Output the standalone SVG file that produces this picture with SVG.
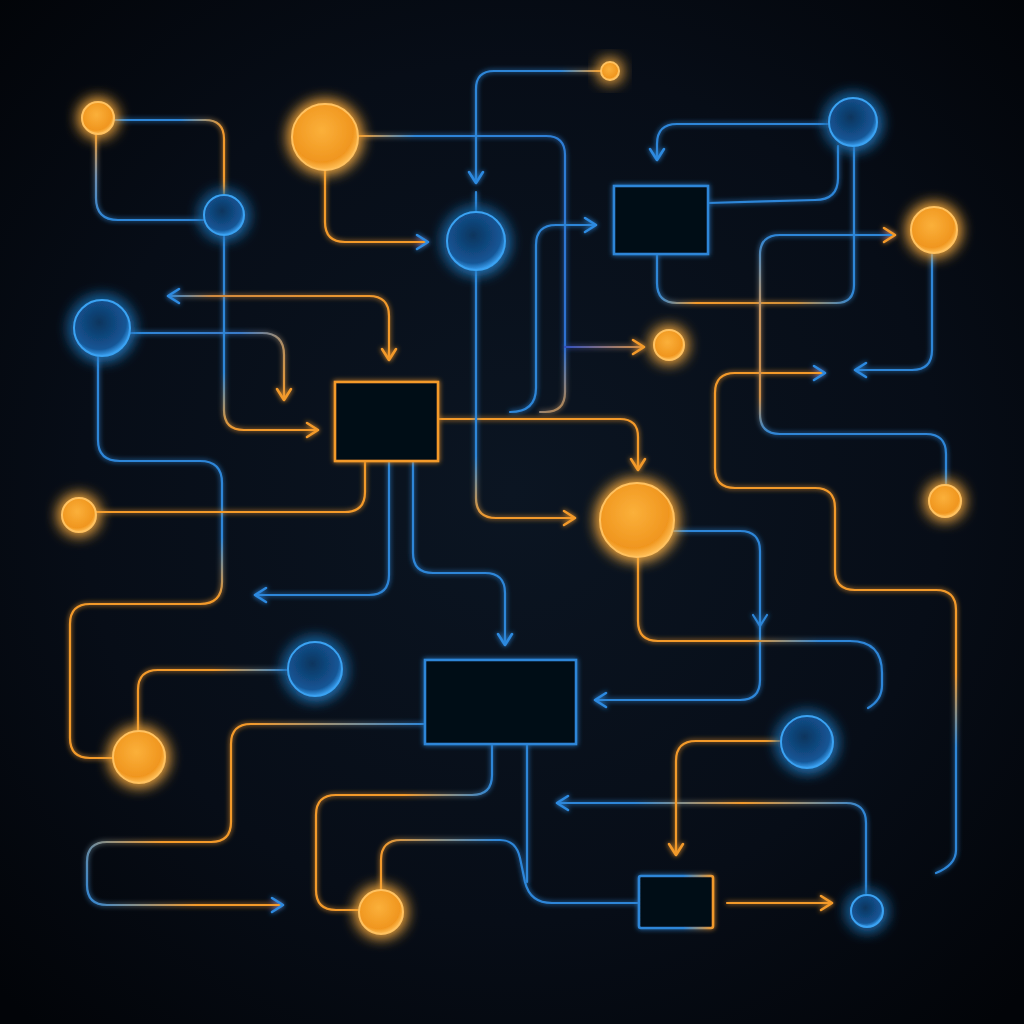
<svg xmlns="http://www.w3.org/2000/svg" width="1024" height="1024" viewBox="0 0 1024 1024">
<defs>
<radialGradient id="bg" cx="50%" cy="48%" r="70%">
<stop offset="0" stop-color="#0b1522"/><stop offset="0.6" stop-color="#070d17"/><stop offset="1" stop-color="#020408"/>
</radialGradient>
<radialGradient id="og" cx="45%" cy="40%" r="60%">
<stop offset="0" stop-color="#fbb03a"/><stop offset="0.8" stop-color="#f0961f"/><stop offset="1" stop-color="#ffbe55"/>
</radialGradient>
<radialGradient id="bgc" cx="45%" cy="40%" r="60%">
<stop offset="0" stop-color="#0d355e"/><stop offset="0.8" stop-color="#145595"/><stop offset="1" stop-color="#3a9ff0"/>
</radialGradient>
<filter id="glow" filterUnits="userSpaceOnUse" x="0" y="0" width="1024" height="1024">
<feGaussianBlur stdDeviation="2.5" result="b"/>
<feMerge><feMergeNode in="b"/><feMergeNode in="SourceGraphic"/></feMerge>
</filter>
<filter id="cglow" x="-70%" y="-70%" width="240%" height="240%">
<feGaussianBlur stdDeviation="8" result="b"/>
<feMerge><feMergeNode in="b"/><feMergeNode in="b"/><feMergeNode in="SourceGraphic"/></feMerge>
</filter>
<marker id="mo" markerUnits="userSpaceOnUse" markerWidth="24" markerHeight="24" viewBox="-14 -12 18 24" refX="0" refY="0" orient="auto-start-reverse">
<path d="M-11,-7 L0,0 L-11,7" fill="none" stroke="#f39a2c" stroke-width="2.6" stroke-linecap="round" stroke-linejoin="round"/>
</marker>
<marker id="mb" markerUnits="userSpaceOnUse" markerWidth="24" markerHeight="24" viewBox="-14 -12 18 24" refX="0" refY="0" orient="auto-start-reverse">
<path d="M-11,-7 L0,0 L-11,7" fill="none" stroke="#2d8ae0" stroke-width="2.6" stroke-linecap="round" stroke-linejoin="round"/>
</marker>
<linearGradient id="g1" gradientUnits="userSpaceOnUse" x1="114" y1="0" x2="224" y2="0"><stop offset="0" stop-color="#2d86d8"/><stop offset="0.6" stop-color="#2d86d8"/><stop offset="1" stop-color="#f39a2c"/></linearGradient>
<linearGradient id="g2" gradientUnits="userSpaceOnUse" x1="0" y1="134" x2="0" y2="220"><stop offset="0" stop-color="#f39a2c"/><stop offset="0.5" stop-color="#6f8fb0"/><stop offset="1" stop-color="#2d86d8"/></linearGradient>
<linearGradient id="g3" gradientUnits="userSpaceOnUse" x1="358" y1="136" x2="565" y2="412"><stop offset="0" stop-color="#f39a2c"/><stop offset="0.1" stop-color="#2d86d8"/><stop offset="0.85" stop-color="#2d6fd0"/><stop offset="1" stop-color="#c08a4a"/></linearGradient>
<linearGradient id="g4" gradientUnits="userSpaceOnUse" x1="0" y1="270" x2="0" y2="518"><stop offset="0" stop-color="#2d86d8"/><stop offset="0.75" stop-color="#2d86d8"/><stop offset="1" stop-color="#f39a2c"/></linearGradient>
<linearGradient id="g5" gradientUnits="userSpaceOnUse" x1="565" y1="0" x2="654" y2="0"><stop offset="0" stop-color="#3050c0"/><stop offset="1" stop-color="#f39a2c"/></linearGradient>
<linearGradient id="g6" gradientUnits="userSpaceOnUse" x1="601" y1="0" x2="560" y2="0"><stop offset="0" stop-color="#f39a2c"/><stop offset="1" stop-color="#2d86d8"/></linearGradient>
<linearGradient id="g8" gradientUnits="userSpaceOnUse" x1="130" y1="333" x2="284" y2="400"><stop offset="0" stop-color="#2d86d8"/><stop offset="0.6" stop-color="#3a7ac8"/><stop offset="1" stop-color="#f39a2c"/></linearGradient>
<linearGradient id="g9" gradientUnits="userSpaceOnUse" x1="0" y1="357" x2="0" y2="758"><stop offset="0" stop-color="#2d86d8"/><stop offset="0.45" stop-color="#2d86d8"/><stop offset="0.6" stop-color="#f39a2c"/><stop offset="1" stop-color="#f39a2c"/></linearGradient>
<linearGradient id="g10" gradientUnits="userSpaceOnUse" x1="0" y1="236" x2="0" y2="430"><stop offset="0" stop-color="#2d86d8"/><stop offset="0.7" stop-color="#2d86d8"/><stop offset="1" stop-color="#f39a2c"/></linearGradient>
<linearGradient id="g11" gradientUnits="userSpaceOnUse" x1="168" y1="0" x2="389" y2="0"><stop offset="0" stop-color="#2d86d8"/><stop offset="0.2" stop-color="#d08a40"/><stop offset="1" stop-color="#f39a2c"/></linearGradient>
<linearGradient id="g18" gradientUnits="userSpaceOnUse" x1="288" y1="0" x2="138" y2="0"><stop offset="0" stop-color="#2d86d8"/><stop offset="0.5" stop-color="#f39a2c"/><stop offset="1" stop-color="#f39a2c"/></linearGradient>
<linearGradient id="g19" gradientUnits="userSpaceOnUse" x1="425" y1="724" x2="87" y2="905"><stop offset="0" stop-color="#2d86d8"/><stop offset="0.4" stop-color="#f39a2c"/><stop offset="0.75" stop-color="#f39a2c"/><stop offset="1" stop-color="#2d86d8"/></linearGradient>
<linearGradient id="g20" gradientUnits="userSpaceOnUse" x1="492" y1="0" x2="316" y2="0"><stop offset="0" stop-color="#2d86d8"/><stop offset="0.5" stop-color="#f39a2c"/><stop offset="1" stop-color="#f39a2c"/></linearGradient>
<linearGradient id="g21" gradientUnits="userSpaceOnUse" x1="381" y1="0" x2="639" y2="0"><stop offset="0" stop-color="#f39a2c"/><stop offset="0.45" stop-color="#2d86d8"/><stop offset="1" stop-color="#2d86d8"/></linearGradient>
<linearGradient id="g23" gradientUnits="userSpaceOnUse" x1="639" y1="0" x2="713" y2="0"><stop offset="0" stop-color="#2d86d8"/><stop offset="0.6" stop-color="#2d86d8"/><stop offset="1" stop-color="#f39a2c"/></linearGradient>
<linearGradient id="g26" gradientUnits="userSpaceOnUse" x1="866" y1="0" x2="557" y2="0"><stop offset="0" stop-color="#2d86d8"/><stop offset="0.4" stop-color="#f39a2c"/><stop offset="0.75" stop-color="#2d86d8"/><stop offset="1" stop-color="#2d86d8"/></linearGradient>
<linearGradient id="g31" gradientUnits="userSpaceOnUse" x1="638" y1="0" x2="882" y2="0"><stop offset="0" stop-color="#f39a2c"/><stop offset="0.45" stop-color="#f39a2c"/><stop offset="0.75" stop-color="#2d86d8"/><stop offset="1" stop-color="#2d86d8"/></linearGradient>
<linearGradient id="g32" gradientUnits="userSpaceOnUse" x1="0" y1="373" x2="0" y2="873"><stop offset="0" stop-color="#f39a2c"/><stop offset="0.6" stop-color="#f39a2c"/><stop offset="0.75" stop-color="#2d86d8"/><stop offset="1" stop-color="#2d86d8"/></linearGradient>
<linearGradient id="g37" gradientUnits="userSpaceOnUse" x1="854" y1="0" x2="657" y2="0"><stop offset="0" stop-color="#2d86d8"/><stop offset="0.3" stop-color="#d0903a"/><stop offset="0.8" stop-color="#f39a2c"/><stop offset="1" stop-color="#2d86d8"/></linearGradient>
<linearGradient id="g39" gradientUnits="userSpaceOnUse" x1="0" y1="235" x2="0" y2="484"><stop offset="0" stop-color="#2d86d8"/><stop offset="0.3" stop-color="#c89660"/><stop offset="0.65" stop-color="#d0904a"/><stop offset="0.8" stop-color="#2d86d8"/><stop offset="1" stop-color="#2d86d8"/></linearGradient>
<style>
.c{fill:none;stroke-width:2.2;stroke-linecap:round;stroke-linejoin:round;filter:url(#glow)}
.o{stroke:#f39a2c}
.b{stroke:#2d86d8}
.box{fill:#060b14;stroke-width:2.6;filter:url(#glow)}
.on{fill:url(#og);stroke:#ffc260;stroke-width:2;filter:url(#cglow)}
.bn{fill:url(#bgc);stroke:#3aa2f2;stroke-width:2;filter:url(#cglow)}
</style>
</defs>
<rect width="1024" height="1024" fill="url(#bg)"/>

<g id="connectors">
<path class="c" stroke="url(#g1)" d="M114,120 H205 Q224,120 224,139 V195"/>
<path class="c" stroke="url(#g2)" d="M96,134 V198 Q96,220 118,220 H204"/>
<path class="c" stroke="url(#g3)" d="M358,136 H546 Q565,136 565,155 V392 Q565,412 545,412 H540"/>
<path class="c b" marker-end="url(#mb)" d="M510,412 Q536,412 536,388 V245 Q536,225 556,225 H596"/>
<path class="c" stroke="url(#g5)" marker-end="url(#mo)" d="M565,347 H644"/>
<path class="c" stroke="url(#g6)" marker-end="url(#mb)" d="M601,71 H494 Q476,71 476,89 V183"/>
<path class="c b" d="M476,192 V212"/>
<path class="c o" marker-end="url(#mb)" d="M325,170 V222 Q325,242 345,242 H428"/>
<path class="c" stroke="url(#g8)" marker-end="url(#mo)" d="M130,333 H262 Q284,333 284,355 V400"/>
<path class="c" stroke="url(#g9)" d="M98,357 V440 Q98,461 120,461 H200 Q222,461 222,483 V582 Q222,604 200,604 H90 Q70,604 70,624 V738 Q70,758 90,758 H113"/>
<path class="c" stroke="url(#g10)" marker-end="url(#mo)" d="M224,236 V410 Q224,430 244,430 H318"/>
<path class="c" stroke="url(#g11)" marker-start="url(#mb)" marker-end="url(#mo)" d="M168,296 H369 Q389,296 389,316 V360"/>
<path class="c o" marker-end="url(#mo)" d="M438,419 H620 Q638,419 638,437 V470"/>
<path class="c o" d="M365,461 V492 Q365,512 345,512 H96"/>
<path class="c b" marker-end="url(#mb)" d="M389,461 V575 Q389,595 369,595 H255"/>
<path class="c b" marker-end="url(#mb)" d="M413,461 V553 Q413,573 433,573 H485 Q505,573 505,593 V645"/>
<path class="c" stroke="url(#g4)" marker-end="url(#mo)" d="M476,270 V498 Q476,518 496,518 H575"/>
<path class="c" stroke="url(#g18)" d="M288,670 H158 Q138,670 138,690 V731"/>
<path class="c" stroke="url(#g19)" marker-end="url(#mb)" d="M425,724 H251 Q231,724 231,744 V822 Q231,842 211,842 H107 Q87,842 87,862 V885 Q87,905 107,905 H283"/>
<path class="c" stroke="url(#g20)" d="M492,744 V775 Q492,795 472,795 H336 Q316,795 316,815 V890 Q316,910 336,910 H359"/>
<path class="c" stroke="url(#g21)" d="M381,890 V860 Q381,840 401,840 H500 Q516,840 520,858 L525,882 Q530,903 552,903 H639"/>
<path class="c b" d="M527,744 V882"/>
<path class="c o" marker-end="url(#mo)" d="M727,903 H832"/>
<path class="c" stroke="url(#g26)" marker-end="url(#mb)" d="M866,895 V823 Q866,803 846,803 H557"/>
<path class="c o" marker-end="url(#mo)" d="M781,741 H696 Q676,741 676,761 V855"/>
<path class="c b" marker-end="url(#mb)" d="M674,531 H740 Q760,531 760,551 V680 Q760,700 740,700 H595"/>
<path class="c b" d="M753,615 L760,626 L767,615"/>
<path class="c" stroke="url(#g31)" d="M638,557 V621 Q638,641 658,641 H850 Q882,641 882,673 V685 Q882,700 868,708"/>
<path class="c" stroke="url(#g32)" marker-start="url(#mb)" d="M825,373 H735 Q715,373 715,393 V468 Q715,488 735,488 H815 Q835,488 835,508 V570 Q835,590 855,590 H936 Q956,590 956,610 V850 Q956,865 936,873"/>
<path class="c b" marker-end="url(#mb)" d="M932,253 V350 Q932,370 912,370 H855"/>
<path class="c b" marker-end="url(#mb)" d="M829,124 H677 Q657,124 657,144 V160"/>
<path class="c b" d="M838,146 V178 Q838,200 815,200 L708,203"/>
<path class="c" stroke="url(#g37)" d="M854,146 V285 Q854,303 836,303 H677 Q657,303 657,283 V254"/>
<path class="c" stroke="url(#g39)" marker-end="url(#mo)" d="M946,484 V454 Q946,434 926,434 H780 Q760,434 760,414 V255 Q760,235 780,235 H895"/>
</g>

<g id="H"><rect class="box o" x="335" y="382" width="103" height="79"/></g>
<g id="J"><rect class="box b" x="425" y="660" width="151" height="84"/></g>
<g id="M"><rect class="box" stroke="url(#g23)" x="639" y="876" width="74" height="52" rx="2"/></g>
<g id="R"><rect class="box b" x="614" y="186" width="94" height="68"/></g>

<g id="A"><circle class="on" cx="98" cy="118" r="16"/></g>
<g id="C"><circle class="on" cx="325" cy="137" r="33"/></g>
<g id="U"><circle class="on" cx="610" cy="71" r="9"/></g>
<g id="P"><circle class="on" cx="934" cy="230" r="23"/></g>
<g id="T"><circle class="on" cx="669" cy="345" r="15"/></g>
<g id="S"><circle class="on" cx="945" cy="501" r="16"/></g>
<g id="I"><circle class="on" cx="79" cy="515" r="17"/></g>
<g id="E"><circle class="on" cx="637" cy="520" r="37"/></g>
<g id="G"><circle class="on" cx="139" cy="757" r="26"/></g>
<g id="L"><circle class="on" cx="381" cy="912" r="22"/></g>
<g id="B"><circle class="bn" cx="224" cy="215" r="20"/></g>
<g id="D"><circle class="bn" cx="476" cy="241" r="29"/></g>
<g id="Q"><circle class="bn" cx="853" cy="122" r="24"/></g>
<g id="F"><circle class="bn" cx="102" cy="328" r="28"/></g>
<g id="K"><circle class="bn" cx="315" cy="669" r="27"/></g>
<g id="O"><circle class="bn" cx="807" cy="742" r="26"/></g>
<g id="N"><circle class="bn" cx="867" cy="911" r="16"/></g>
</svg>
